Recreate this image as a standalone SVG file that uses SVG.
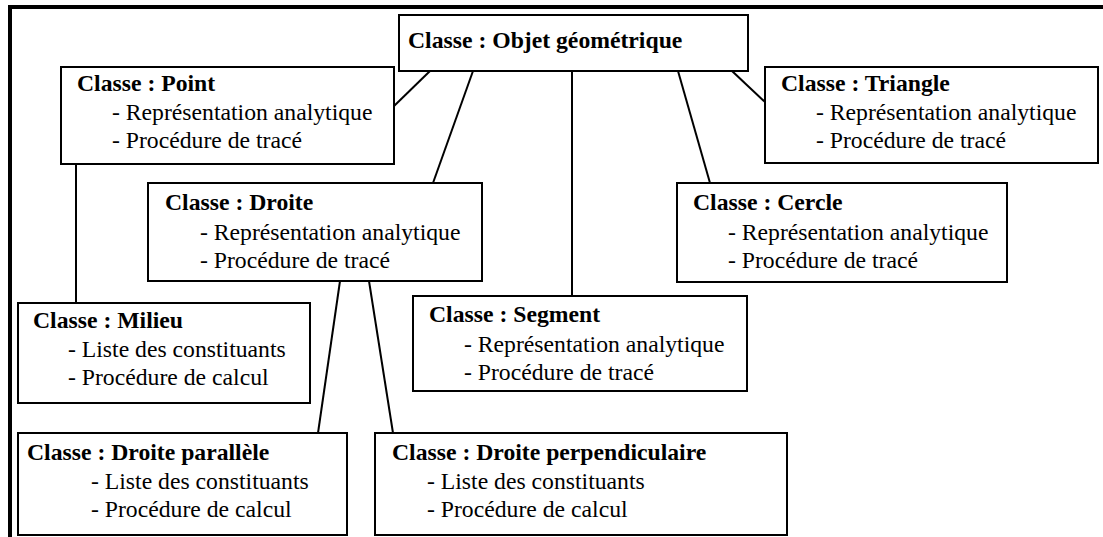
<svg xmlns="http://www.w3.org/2000/svg" width="1103" height="537" viewBox="0 0 1103 537">
<style>
.box{fill:#fff;stroke:#000;stroke-width:2}
.t{font-family:"Liberation Serif","Times New Roman",serif;font-size:23.7px;fill:#000}
.b{font-weight:bold}
.c{stroke:#000;stroke-width:2;fill:none}
</style>
<rect width="1103" height="537" fill="#fff"/>
<path d="M10,537 V7 H1103" fill="none" stroke="#000" stroke-width="4"/>
<g id="connectors">
<line class="c" x1="430" y1="71" x2="393" y2="107"/>
<line class="c" x1="473" y1="71" x2="433" y2="183"/>
<line class="c" x1="572" y1="71" x2="572" y2="296"/>
<line class="c" x1="678" y1="71" x2="710" y2="183"/>
<line class="c" x1="732" y1="71" x2="765" y2="102"/>
<line class="c" x1="76" y1="164" x2="76" y2="303"/>
<line class="c" x1="340" y1="281" x2="318" y2="433"/>
<line class="c" x1="369" y1="281" x2="393" y2="433"/>
</g>
<g id="objet">
<rect class="box" x="399" y="15" width="349" height="56"/>
<text class="t b" x="408" y="48">Classe : Objet géométrique</text>
</g>
<g id="point">
<rect class="box" x="61" y="67" width="333" height="97"/>
<text class="t b" x="77" y="91">Classe : Point</text>
<text class="t" x="112" y="120">- Représentation analytique</text>
<text class="t" x="112" y="148">- Procédure de tracé</text>
</g>
<g id="triangle">
<rect class="box" x="765" y="67" width="333" height="96"/>
<text class="t b" x="781" y="91">Classe : Triangle</text>
<text class="t" x="816" y="120">- Représentation analytique</text>
<text class="t" x="816" y="148">- Procédure de tracé</text>
</g>
<g id="droite">
<rect class="box" x="148" y="183" width="334" height="98"/>
<text class="t b" x="165" y="210">Classe : Droite</text>
<text class="t" x="200" y="240">- Représentation analytique</text>
<text class="t" x="200" y="268">- Procédure de tracé</text>
</g>
<g id="cercle">
<rect class="box" x="677" y="183" width="330" height="99"/>
<text class="t b" x="693" y="210">Classe : Cercle</text>
<text class="t" x="728" y="240">- Représentation analytique</text>
<text class="t" x="728" y="268">- Procédure de tracé</text>
</g>
<g id="milieu">
<rect class="box" x="18" y="303" width="292" height="100"/>
<text class="t b" x="33" y="328">Classe : Milieu</text>
<text class="t" x="68" y="357">- Liste des constituants</text>
<text class="t" x="68" y="385">- Procédure de calcul</text>
</g>
<g id="segment">
<rect class="box" x="413" y="296" width="334" height="95"/>
<text class="t b" x="429" y="322">Classe : Segment</text>
<text class="t" x="464" y="352">- Représentation analytique</text>
<text class="t" x="464" y="380">- Procédure de tracé</text>
</g>
<g id="parallele">
<rect class="box" x="18" y="433" width="329" height="102"/>
<text class="t b" x="27" y="460">Classe : Droite parallèle</text>
<text class="t" x="91" y="489">- Liste des constituants</text>
<text class="t" x="91" y="517">- Procédure de calcul</text>
</g>
<g id="perpendiculaire">
<rect class="box" x="375" y="433" width="412" height="102"/>
<text class="t b" x="392" y="460">Classe : Droite perpendiculaire</text>
<text class="t" x="427" y="489">- Liste des constituants</text>
<text class="t" x="427" y="517">- Procédure de calcul</text>
</g>
</svg>
